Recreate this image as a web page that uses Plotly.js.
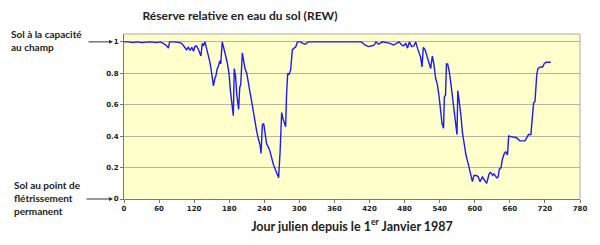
<!DOCTYPE html>
<html>
<head>
<meta charset="utf-8">
<script src="https://cdn.plot.ly/plotly-3.0.1.min.js"></script>
<style>html,body{margin:0;padding:0;background:#fff}#chart{width:600px;height:245px}</style>
</head>
<body>
<div id="chart"></div>
<script>
// Julian day since 1 Jan 1987
const days = [0,8,15,22,30,38,45,55,62,67,73,76,78,85,96,100,104,107,110,113,116,119,121,124,127,130,131.5,134,136,138.5,141,144,147,150,153,155.6,157,159.5,161,164,165.5,168,171,174,177,179.6,182,184.7,187,188.6,190.9,193,196,198,199.7,202.4,204,207,210,212.7,215.5,218.4,221.3,224,227,230,233,234.5,236.6,239,241,244,247,250,255.5,261,264.5,267,269.7,272,276.5,278,280,282,285,288,291,294,296.5,302,306,310,315,330,350,370,390,406,412,418,424,428,431,435,438,442,449,455,461,466.5,470.5,475,478,482,485,488,492,496,499,502,504.6,507.5,509.7,512,515,517.6,520.5,522,524.6,527.4,530,533,536,539,542,544,546.6,548,550,551.5,553.6,556.4,559.3,562,565,568,569.6,571,573,576.4,579,582,585,589,592,596,598.6,603,606,609,613,616,620.4,624.5,627,630.7,633,637.5,640,642,645,647,650.5,653,656,658,665,671.5,677,686,689,692,696,698,700.6,703,706,708,712,716,718.5,722,730];
// Relative extractable water (REW)
const rew = [1.0,1.0,0.995,1.0,0.995,1.0,1.0,0.995,1.0,0.99,0.975,0.96,1.0,1.0,0.995,0.985,0.96,0.95,0.965,0.945,0.965,0.94,0.97,0.975,0.955,0.93,0.91,0.99,0.975,1.0,0.96,0.9,0.87,0.8,0.72,0.77,0.78,0.83,0.84,0.88,0.86,1.0,0.96,0.91,0.86,0.8,0.69,0.59,0.53,0.83,0.78,0.66,0.57,0.71,0.73,0.93,0.9,0.83,0.8,0.75,0.68,0.62,0.55,0.49,0.43,0.38,0.34,0.29,0.47,0.48,0.42,0.35,0.33,0.30,0.22,0.16,0.135,0.30,0.55,0.51,0.46,0.66,0.80,0.79,0.82,0.95,0.96,0.97,1.0,1.0,0.99,0.985,1.0,1.0,0.998,1.0,1.0,1.0,0.98,0.97,0.975,0.98,1.0,0.985,0.99,1.0,0.995,0.99,0.98,0.99,1.0,0.98,0.975,0.99,0.96,1.0,0.97,0.975,1.0,0.96,0.93,0.9,0.84,0.965,0.95,0.92,0.89,0.86,0.83,0.91,0.86,0.77,0.73,0.65,0.52,0.48,0.45,0.65,0.66,0.86,0.86,0.81,0.73,0.65,0.57,0.48,0.41,0.69,0.64,0.53,0.42,0.34,0.28,0.22,0.18,0.11,0.15,0.15,0.14,0.11,0.14,0.125,0.10,0.16,0.17,0.15,0.16,0.135,0.14,0.19,0.20,0.25,0.29,0.30,0.28,0.40,0.395,0.39,0.37,0.37,0.39,0.41,0.41,0.53,0.61,0.62,0.79,0.83,0.84,0.84,0.86,0.87,0.87];
const xTicks = [0,60,120,180,240,300,360,420,480,540,600,660,720,780];
const yTicks = [0,0.2,0.4,0.6,0.8,1];
const yTickText = ['0','0.2','0.4','0.6','0.8','1'];
const chartTitle = 'Réserve relative en eau du sol (REW)';
const xTitle = 'Jour julien depuis le 1<sup style="font-size:70%">er</sup> Janvier 1987';
const labelTop = 'Sol à la capacité<br>au champ';
const labelBottom = 'Sol au point de<br>flétrissement<br>permanent';

const L = 124, R = 20, W = 600;
const pw = W - L - R;
const px = p => (p - L) / pw;

const trace = {
  x: days, y: rew, type: 'scatter', mode: 'lines',
  line: {color: '#1a1aff', width: 1.4}, hoverinfo: 'skip'
};

const layout = {
  width: 600, height: 245,
  margin: {l: L, r: R, t: 34.4, b: 45.7},
  paper_bgcolor: '#ffffff',
  plot_bgcolor: '#ffffcc',
  showlegend: false,
  font: {family: 'Lato, sans-serif', color: '#222'},
  title: {text: chartTitle, x: 240/600, xanchor: 'center', y: 1 - 16/245, yanchor: 'middle',
          font: {family: 'Lato, sans-serif', size: 12, weight: 'bold', color: '#222'}},
  xaxis: {
    range: [0, 780], tickvals: xTicks, ticktext: xTicks.map(String),
    showgrid: false, zeroline: false, showline: true, linecolor: '#777', linewidth: 1,
    ticks: 'outside', ticklen: 3, tickcolor: '#777',
    tickfont: {family: 'Verdana, DejaVu Sans, sans-serif', size: 7, weight: 'bold', color: '#222'},
    mirror: false, fixedrange: true,
    title: {text: xTitle, standoff: 9, font: {family: 'Lato, sans-serif', size: 12.5, weight: 'bold', color: '#222'}}
  },
  yaxis: {
    range: [0, 1.05], tickvals: yTicks, ticktext: yTickText,
    showgrid: true, gridcolor: '#b5b5a0', gridwidth: 1, zeroline: false,
    showline: true, linecolor: '#777', linewidth: 1,
    ticks: 'outside', ticklen: 3, tickcolor: '#777',
    tickfont: {family: 'Verdana, DejaVu Sans, sans-serif', size: 7, weight: 'bold', color: '#222'},
    fixedrange: true
  },
  shapes: [
    {type: 'line', xref: 'paper', yref: 'paper', x0: 1, x1: 1, y0: 0, y1: 1, line: {color: '#aaa', width: 1}},
    {type: 'line', xref: 'paper', yref: 'paper', x0: 0, x1: 1, y0: 1, y1: 1, line: {color: '#aaa', width: 1}}
  ],
  annotations: [
    {xref: 'paper', yref: 'y', x: px(113), y: 1, ax: -26, ay: 0, showarrow: true, arrowhead: 2, arrowsize: 0.8, arrowwidth: 1, arrowcolor: '#333', text: ''},
    {xref: 'paper', yref: 'y', x: px(113), y: 0, ax: -28, ay: 0, showarrow: true, arrowhead: 2, arrowsize: 0.8, arrowwidth: 1, arrowcolor: '#333', text: ''},
    {xref: 'paper', yref: 'paper', x: px(9), y: 1 - (26 - 34.4) / 164.9 , xanchor: 'left', yanchor: 'top', align: 'left', showarrow: false,
     text: labelTop, font: {family: 'Lato, sans-serif', size: 10, weight: 'bold', color: '#222'}},
    {xref: 'paper', yref: 'paper', x: px(12), y: (199.3 - 177) / 164.9, xanchor: 'left', yanchor: 'top', align: 'left', showarrow: false,
     text: labelBottom, font: {family: 'Lato, sans-serif', size: 10, weight: 'bold', color: '#222'}}
  ]
};

Plotly.newPlot('chart', [trace], layout, {staticPlot: true, displayModeBar: false});
</script>
</body>
</html>
